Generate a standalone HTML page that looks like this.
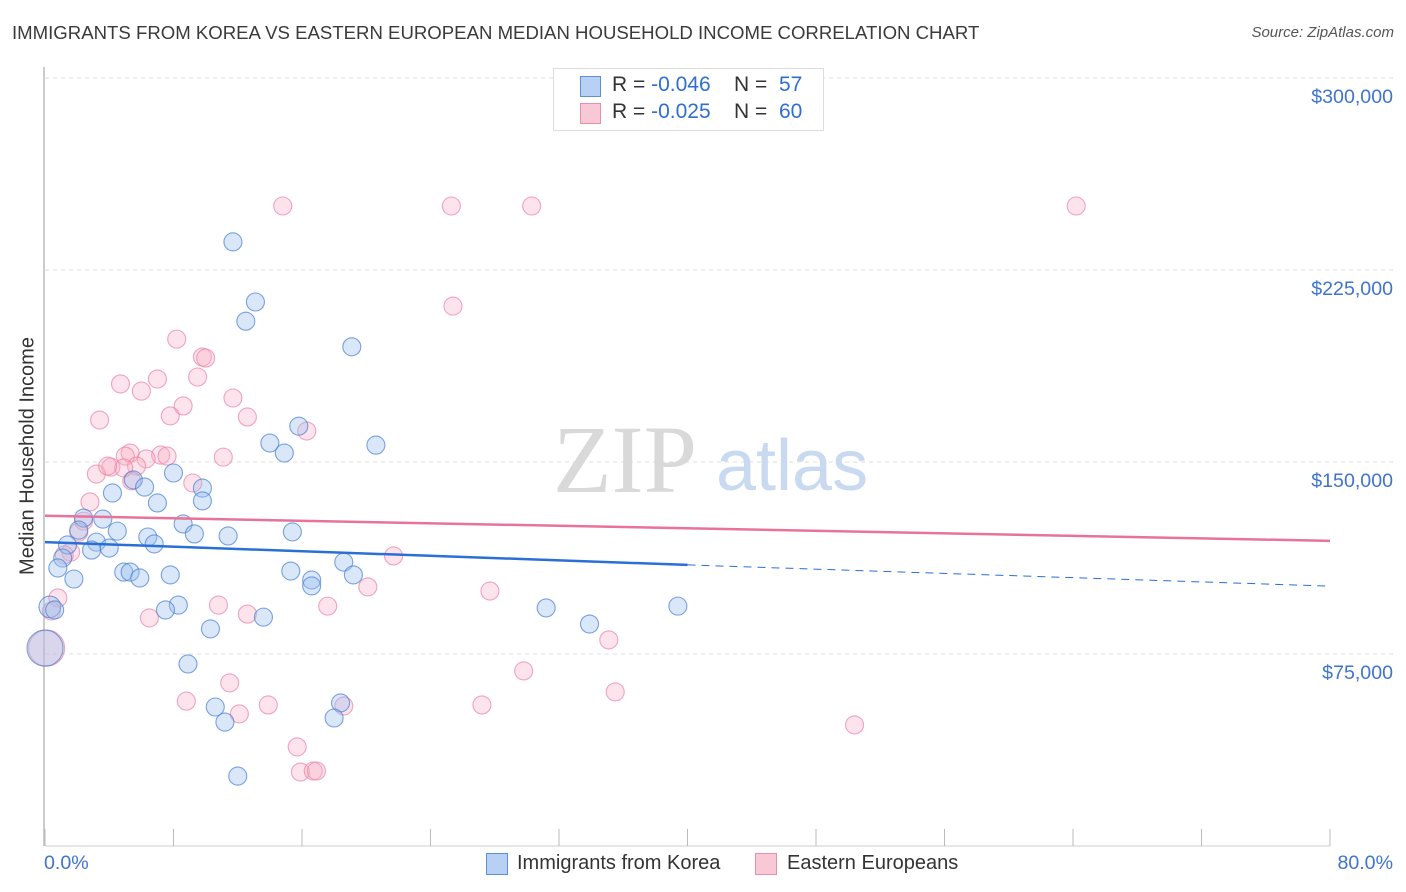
<!DOCTYPE html>
<html><head><meta charset="utf-8"><style>
body{margin:0;background:#fff;font-family:"Liberation Sans",sans-serif;}
#wrap{position:relative;width:1406px;height:892px;overflow:hidden;}
.t{position:absolute;white-space:nowrap;}
</style></head><body>
<div id="wrap">
<div class="t" style="left:12px;top:22px;font-size:18.6px;color:#3a3a3a;">IMMIGRANTS FROM KOREA VS EASTERN EUROPEAN MEDIAN HOUSEHOLD INCOME CORRELATION CHART</div>
<div class="t" style="right:12px;top:24px;font-size:15px;color:#555;font-style:italic;">Source: ZipAtlas.com</div>
<svg id="svg" width="1406" height="892" style="position:absolute;left:0;top:0"></svg>
</div>
<script>
const xMax = 80, yMax = 300;
const yTicks = [75, 150, 225, 300];
const yTickLabels = ["$75,000", "$150,000", "$225,000", "$300,000"];
const xTickCount = 10;
const blueX = [11.7,13.1,12.5,19.1,15.8,20.6,14.0,14.9,8.0,4.2,5.5,6.2,9.8,9.8,7.0,2.4,3.6,8.6,15.4,4.5,2.1,6.4,9.3,11.4,6.8,1.4,3.2,2.9,4.0,1.1,0.8,4.9,5.3,5.9,7.8,1.8,15.3,16.6,16.6,18.6,19.2,8.3,7.5,31.2,39.4,10.3,13.6,33.9,0.3,8.9,18.4,10.6,18.0,11.2,12.0,0,0.6];
const blueY = [236,212.5,205,195,164,156.6,157.4,153.5,145.7,137.9,143,140.2,139.8,134.8,134,128.1,127.7,125.8,122.7,123,123.4,120.7,121.9,121.1,118,117.6,118.7,115.6,116.4,112.5,108.6,107,107,104.7,105.9,104.3,107.4,103.9,101.6,110.9,105.9,94.1,92.2,93,93.7,84.8,89.4,86.7,93.4,71.1,55.9,54.3,50,48.4,27.3,77.3,92.2];
const blueSize = [1,1,1,1,1,1,1,1,1,1,1,1,1,1,1,1,1,1,1,1,1,1,1,1,1,1,1,1,1,1,1,1,1,1,1,1,1,1,1,1,1,1,1,1,1,1,1,1,1.2,1,1,1,1,1,1,2,1];
const pinkX = [14.8,25.3,30.3,64.2,25.4,8.2,9.8,10.0,4.7,6.0,7.0,9.5,11.7,8.6,7.8,3.4,12.6,16.3,5.3,5.0,7.2,7.6,6.3,11.1,4.1,5.7,3.2,9.2,2.8,2.4,2.1,1.6,1.2,5.4,21.7,20.1,27.7,10.8,12.6,6.5,17.6,0.8,0.4,0.1,35.1,29.8,35.5,11.5,8.8,27.2,13.9,18.6,12.1,50.4,15.7,15.9,16.7,16.9,4.9,3.9];
const pinkY = [250,250,250,250,210.9,198,191,190.6,180.5,177.7,182.4,183.2,175,171.9,168,166.4,167.6,162.1,153.5,152.3,152.7,152.3,151.2,151.9,148,148.4,145.3,141.8,134.4,126.9,122.6,114.8,113.7,142.6,113.3,101.2,99.6,94.1,90.6,89.1,93.7,96.9,91.8,77.3,80.5,68.4,60.2,63.7,56.6,55.1,55.1,54.7,51.6,47.3,38.7,28.9,29.3,29.3,147.7,148.4];
const pinkSize = pinkX.map((v,i)=> i===43 ? 2 : 1);
const blueTrend = [118.7, 109.8, 101.5];
const pinkTrend = [129.0, 119.2];

const X0=45, X1=1330, Y0=846, YTOP=78;
const sx = v => X0 + v/xMax*(X1-X0);
const sy = v => Y0 - v/yMax*(Y0-YTOP);
const NS="http://www.w3.org/2000/svg";
const svg=document.getElementById('svg');
function el(tag, attrs, parent){const e=document.createElementNS(NS,tag);for(const k in attrs)e.setAttribute(k,attrs[k]);(parent||svg).appendChild(e);return e;}

yTicks.forEach((t,i)=>{
  const g=el('line',{x1:X0,x2:1393,y1:sy(t),y2:sy(t),stroke:'#ddd','stroke-dasharray':'4,4','stroke-width':1});
  
  
  const tx=el('text',{x:1393,y:sy(t)+25,'text-anchor':'end','font-size':19.6,fill:'#3f74cc','font-family':'Liberation Sans, sans-serif'});
  tx.textContent=yTickLabels[i];
  
  
});
const ya=el('line',{x1:44,x2:44,y1:67,y2:Y0,stroke:'#bbb','stroke-width':1.5});


const xa=el('line',{x1:X0,x2:X1,y1:Y0,y2:Y0,stroke:'#ccc','stroke-width':1});


for(let i=0;i<=xTickCount;i++){
  const x=sx(i*xMax/xTickCount);
  const tk=el('line',{x1:x,x2:x,y1:829,y2:Y0,stroke:'#bbb','stroke-width':1});
  
  
}
const wm=el('text',{x:553,y:492,'font-size':96,fill:'#d9d9d9','font-family':'Liberation Serif, serif'});
wm.textContent='ZIP';


const wm2=el('text',{x:716,y:490,'font-size':72,fill:'#c9daf0','font-family':'Liberation Sans, sans-serif'});
wm2.textContent='atlas';



function pts(xs,ys,sz,fill,stroke,name){
  xs.forEach((v,i)=>{
    const c=el('circle',{cx:sx(v),cy:sy(ys[i]),r:9*sz[i],fill:fill,stroke:stroke,'stroke-width':1.1});
    
    
  });
}
pts(pinkX,pinkY,pinkSize,'rgba(248,175,198,0.35)','rgba(232,130,165,0.7)','pink-point');
pts(blueX,blueY,blueSize,'rgba(155,192,240,0.38)','rgba(70,125,210,0.7)','blue-point');

const bt=el('line',{x1:sx(0),y1:sy(blueTrend[0]),x2:sx(40),y2:sy(blueTrend[1]),stroke:'#2a6fd6','stroke-width':2.5});


const bt2=el('line',{x1:sx(40),y1:sy(blueTrend[1]),x2:sx(80),y2:sy(blueTrend[2]),stroke:'#2a6fd6','stroke-width':1,'stroke-dasharray':'8,6'});


const pt=el('line',{x1:sx(0),y1:sy(pinkTrend[0]),x2:sx(80),y2:sy(pinkTrend[1]),stroke:'#e8729a','stroke-width':2.5});


</script>

<div class="t" style="left:28px;top:456px;font-size:20px;color:#333;transform:translate(-50%,-50%) rotate(-90deg);">Median Household Income</div>
<div class="t" style="left:44px;top:852px;font-size:19.6px;color:#3f74cc;">0.0%</div>
<div class="t" style="right:13px;top:852px;font-size:19.6px;color:#3f74cc;">80.0%</div>

<div style="position:absolute;left:553px;top:68px;width:269px;height:61px;border:1px solid #ddd;background:#fff;font-size:21px;">
  <div style="position:absolute;left:26px;top:7px;width:19px;height:19px;background:#b7d0f3;border:1px solid #5b8fd8;"></div>
  <div class="t" style="left:58px;top:4px;color:#333;">R = <span style="color:#2f6fd0">-0.046</span>&nbsp;&nbsp;&nbsp; N = &nbsp;<span style="color:#2f6fd0">57</span></div>
  <div style="position:absolute;left:26px;top:34px;width:19px;height:19px;background:#f9c8d7;border:1px solid #e88fae;"></div>
  <div class="t" style="left:58px;top:31px;color:#333;">R = <span style="color:#2f6fd0">-0.025</span>&nbsp;&nbsp;&nbsp; N = &nbsp;<span style="color:#2f6fd0">60</span></div>
</div>

<div style="position:absolute;left:486px;top:853px;">
  <div style="position:absolute;left:0;top:0;width:20px;height:20px;background:#b7d0f3;border:1px solid #5b8fd8;"></div>
  <div class="t" style="left:31px;top:-1px;font-size:20px;color:#333;">Immigrants from Korea</div>
</div>
<div style="position:absolute;left:755px;top:853px;">
  <div style="position:absolute;left:0;top:0;width:20px;height:20px;background:#f9c8d7;border:1px solid #e88fae;"></div>
  <div class="t" style="left:32px;top:-1px;font-size:20px;color:#333;">Eastern Europeans</div>
</div>
</body></html>
